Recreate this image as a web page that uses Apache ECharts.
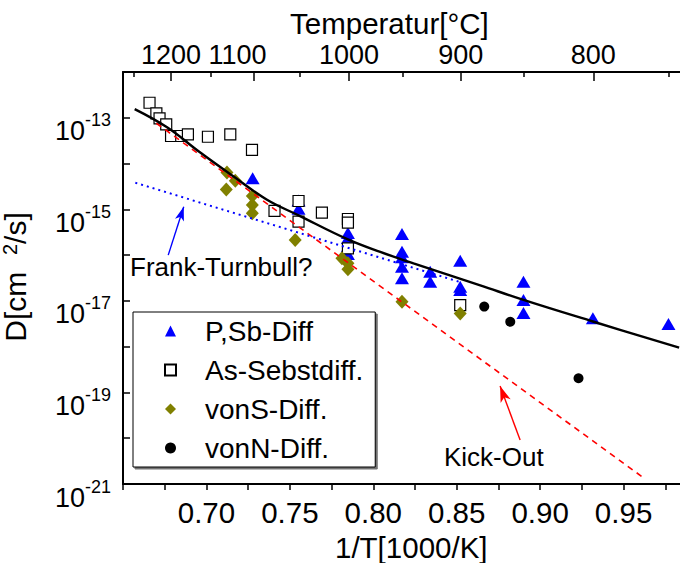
<!DOCTYPE html>
<html>
<head>
<meta charset="utf-8">
<script src="https://cdn.jsdelivr.net/npm/echarts@6/dist/echarts.min.js"></script>
<style>
  html, body { margin: 0; padding: 0; background: #fff; }
  #chart { width: 680px; height: 563px; }
</style>
</head>
<body>
<div id="chart"></div>
<script>
const FONT = '"Liberation Sans", Arial, Helvetica, sans-serif';

// Arrhenius plot: x = 1000/T [1/K], y = D [cm^2/s]
const psbDiff = [
  [0.7277, 4.76e-15], [0.7552, 1.56e-15], [0.7552, 1.03e-15],
  [0.7848, 3.04e-16], [0.7848, 2.37e-16], [0.7848, 1.58e-16], [0.7848, 1.06e-16],
  [0.8172, 2.89e-16], [0.8172, 1.19e-16], [0.8172, 8.95e-17], [0.8172, 5.58e-17], [0.8172, 3.11e-17],
  [0.8341, 4.34e-17], [0.8341, 2.62e-17],
  [0.8521, 7.55e-17], [0.8521, 2.04e-17], [0.8521, 1.73e-17],
  [0.8900, 2.62e-17], [0.8900, 1.04e-17], [0.8900, 5.43e-18],
  [0.9316, 4.16e-18], [0.9769, 3.13e-18]
];
const asSelfDiff = [
  [0.6659, 2.13e-13], [0.6700, 1.25e-13], [0.6719, 9.7e-14], [0.6759, 7.2e-14],
  [0.6788, 4.0e-14], [0.6849, 4.0e-14], [0.6889, 4.36e-14], [0.7009, 3.85e-14],
  [0.7143, 4.36e-14], [0.7273, 1.98e-14], [0.7408, 9.3e-16], [0.7552, 1.52e-15],
  [0.7552, 5.37e-16], [0.7692, 8.5e-16], [0.7848, 6.15e-16], [0.7848, 5.1e-16],
  [0.7848, 1.41e-16], [0.8521, 8.1e-18]
];
const vonSDiff = [
  [0.7123, 6.4e-15], [0.7173, 4.2e-15], [0.7119, 2.7e-15],
  [0.7275, 1.95e-15], [0.7275, 1.24e-15], [0.7275, 8.2e-16],
  [0.7532, 2.14e-16], [0.7812, 8.5e-17], [0.7848, 6.6e-17], [0.7848, 4.9e-17],
  [0.8172, 9.6e-18], [0.8521, 5.3e-18]
];
const vonNDiff = [
  [0.8665, 7.5e-18], [0.8821, 3.5e-18], [0.9230, 2.04e-19]
];

// Model curves
const kickOut = [[0.670, 7.6e-14], [0.961, 1.45e-21]];
const frankTurnbull = [[0.6574, 3.8e-15], [0.8521, 2.57e-17]];
const totalFit = [
  [0.6570, 1.55e-13], [0.6764, 6.2e-14], [0.6963, 1.74e-14], [0.7163, 5.2e-15],
  [0.7363, 1.62e-15], [0.7552, 7.4e-16], [0.7848, 2.2e-16], [0.8042, 1.17e-16],
  [0.8241, 6.6e-17], [0.8441, 3.8e-17], [0.8641, 2.19e-17], [0.8900, 1.05e-17],
  [0.9316, 3.55e-18], [0.9833, 9.5e-19]
];

// Annotation arrows: [tail, head]
const ftArrow = [[0.6771, 1.0e-16], [0.6864, 1.14e-15]];
const koArrow = [[0.8880, 9.1e-21], [0.8760, 1.38e-19]];

// Axis ticks
const xTickLabels = [0.70, 0.75, 0.80, 0.85, 0.90, 0.95];
const yTickLabels = [1e-21, 1e-19, 1e-17, 1e-15, 1e-13];
const tempLabels = [1200, 1100, 1000, 900, 800];      // °C
const tempMinor = [1250, 1150, 1050, 950, 850, 750];  // °C
const invT = t => 1000 / (t + 273.15);

const X_MIN = 0.65, X_MAX = 1.0;
const axisLineStyle = { color: '#000', width: 2 };

const chart = echarts.init(document.getElementById('chart'), null, { renderer: 'svg' });

const scatterBase = { type: 'scatter', xAxisIndex: 0, yAxisIndex: 0, z: 3 };

chart.setOption({
  animation: false,
  backgroundColor: '#fff',
  textStyle: { fontFamily: FONT },
  // the plot frame runs past the right edge of the canvas
  grid: { left: 123, top: 72, width: 584, height: 412, containLabel: false, outerBoundsMode: 'none' },
  xAxis: [
    {
      type: 'value', position: 'bottom', min: X_MIN, max: X_MAX, interval: 0.05,
      axisLine: { show: true, onZero: false, lineStyle: axisLineStyle },
      axisTick: { show: true, inside: false, length: 6, lineStyle: { color: '#000', width: 1.5 } },
      minorTick: { show: true, splitNumber: 2, length: 6, lineStyle: { color: '#000', width: 1.5 } },
      splitLine: { show: false },
      axisLabel: {
        customValues: xTickLabels,
        formatter: v => v.toFixed(2),
        fontSize: 29.5, color: '#000', fontFamily: FONT, margin: 13
      }
    },
    {
      type: 'value', position: 'top', min: X_MIN, max: X_MAX,
      axisLine: { show: true, onZero: false, lineStyle: axisLineStyle },
      axisTick: { show: true, inside: true, length: 9, customValues: tempLabels.map(invT), lineStyle: { color: '#000', width: 1.5 } },
      splitLine: { show: false },
      axisLabel: {
        customValues: tempLabels.map(invT),
        formatter: v => {
          const t = Math.round(1000 / v - 273.15);
          // the 1100 label sits a little left of its tick
          return t === 1100 ? '{l|' + t + '}' : String(t);
        },
        rich: { l: { fontSize: 27, fontFamily: FONT, color: '#000', padding: [0, 32, 0, 0] } },
        fontSize: 27, color: '#000', fontFamily: FONT, margin: 4
      }
    },
    {
      type: 'value', position: 'top', min: X_MIN, max: X_MAX,
      axisLine: { show: false, onZero: false },
      axisTick: { show: true, inside: true, length: 5, customValues: tempMinor.map(invT), lineStyle: { color: '#000', width: 1.5 } },
      splitLine: { show: false },
      axisLabel: { show: false }
    }
  ],
  yAxis: {
    type: 'log', logBase: 10, min: 1e-21, max: 1e-12, interval: 1,
    axisLine: { show: true, onZero: false, lineStyle: axisLineStyle },
    axisTick: { show: true, inside: true, length: 7, lineStyle: { color: '#000', width: 1.5 } },
    splitLine: { show: false },
    axisLabel: {
      customValues: yTickLabels,
      margin: 12,
      showMinLabel: true,
      hideOverlap: false,
      padding: [14, 0, 0, 0],
      formatter: v => '{b|10}{s|' + Math.round(Math.log10(v)) + '}',
      rich: {
        b: { fontSize: 27, fontFamily: FONT, color: '#000', lineHeight: 27, padding: [13, 0, 0, 0] },
        s: { fontSize: 18, fontFamily: FONT, color: '#000', lineHeight: 18, verticalAlign: 'top' }
      }
    }
  },
  legend: {
    orient: 'vertical', left: 133, top: 312,
    padding: [4, 12, 4, 31],
    itemWidth: 11, itemHeight: 11, itemGap: 9,
    backgroundColor: '#fff', borderColor: '#000', borderWidth: 1,
    shadowColor: 'rgba(0,0,0,0.55)', shadowOffsetX: 2, shadowOffsetY: 2, shadowBlur: 0,
    textStyle: { fontSize: 28, fontFamily: FONT, color: '#000', lineHeight: 30, padding: [0, 0, 0, 24] },
    data: ['P,Sb-Diff', 'As-Sebstdiff.', 'vonS-Diff.', 'vonN-Diff.']
  },
  graphic: [
    { type: 'text', top: 8, left: 290, style: { text: 'Temperatur[°C]', font: '29.5px ' + FONT, fill: '#000' } },
    { type: 'text', top: 532, left: 335, style: { text: '1/T[1000/K]', font: '29.5px ' + FONT, fill: '#000' } },
    {
      type: 'text', x: 15, y: 277, rotation: Math.PI / 2,
      style: {
        text: '{a|D[cm  }{s|2}{a|/s]}', align: 'center', verticalAlign: 'middle',
        rich: { a: { fontSize: 30, fontFamily: FONT, fill: '#000' }, s: { fontSize: 20, fontFamily: FONT, fill: '#000', verticalAlign: 'top' } }
      }
    },
    { type: 'text', left: 130, top: 254, style: { text: 'Frank-Turnbull?', font: '26px ' + FONT, fill: '#000' } },
    { type: 'text', left: 444, top: 444, style: { text: 'Kick-Out', font: '26px ' + FONT, fill: '#000' } }
  ],
  series: [
    Object.assign({}, scatterBase, {
      name: 'P,Sb-Diff', data: psbDiff, symbol: 'triangle', symbolSize: [14, 12],
      itemStyle: { color: '#0000ff', opacity: 1 }
    }),
    Object.assign({}, scatterBase, {
      name: 'As-Sebstdiff.', data: asSelfDiff, symbol: 'rect', symbolSize: 11,
      itemStyle: { color: '#fff', borderColor: '#000', borderWidth: 1.2, opacity: 1 }
    }),
    Object.assign({}, scatterBase, {
      name: 'vonS-Diff.', data: vonSDiff, symbol: 'diamond', symbolSize: [13, 14],
      itemStyle: { color: '#808000', opacity: 1 }
    }),
    Object.assign({}, scatterBase, {
      name: 'vonN-Diff.', data: vonNDiff, symbol: 'circle', symbolSize: 10,
      itemStyle: { color: '#000', opacity: 1 }
    }),
    {
      name: 'Kick-Out', type: 'line', data: kickOut, showSymbol: false, symbol: 'none', z: 4,
      lineStyle: { color: '#ff0000', width: 1.6, type: [6, 5] },
      markLine: {
        silent: true, symbol: ['none', 'arrow'], symbolSize: [8, 16], label: { show: false },
        lineStyle: { color: '#ff0000', width: 1.4, type: 'solid' },
        data: [[{ coord: koArrow[0] }, { coord: koArrow[1] }]]
      }
    },
    {
      name: 'Frank-Turnbull', type: 'line', data: frankTurnbull, showSymbol: false, symbol: 'none', z: 4,
      lineStyle: { color: '#0000ff', width: 2, type: [2, 4] },
      markLine: {
        silent: true, symbol: ['none', 'arrow'], symbolSize: [7, 14], label: { show: false },
        lineStyle: { color: '#0000ff', width: 1.4, type: 'solid' },
        data: [[{ coord: ftArrow[0] }, { coord: ftArrow[1] }]]
      }
    },
    {
      name: 'Fit', type: 'line', data: totalFit, showSymbol: false, symbol: 'none', smooth: 0.4, z: 5,
      lineStyle: { color: '#000', width: 2.4 }
    }
  ]
});
</script>
</body>
</html>
